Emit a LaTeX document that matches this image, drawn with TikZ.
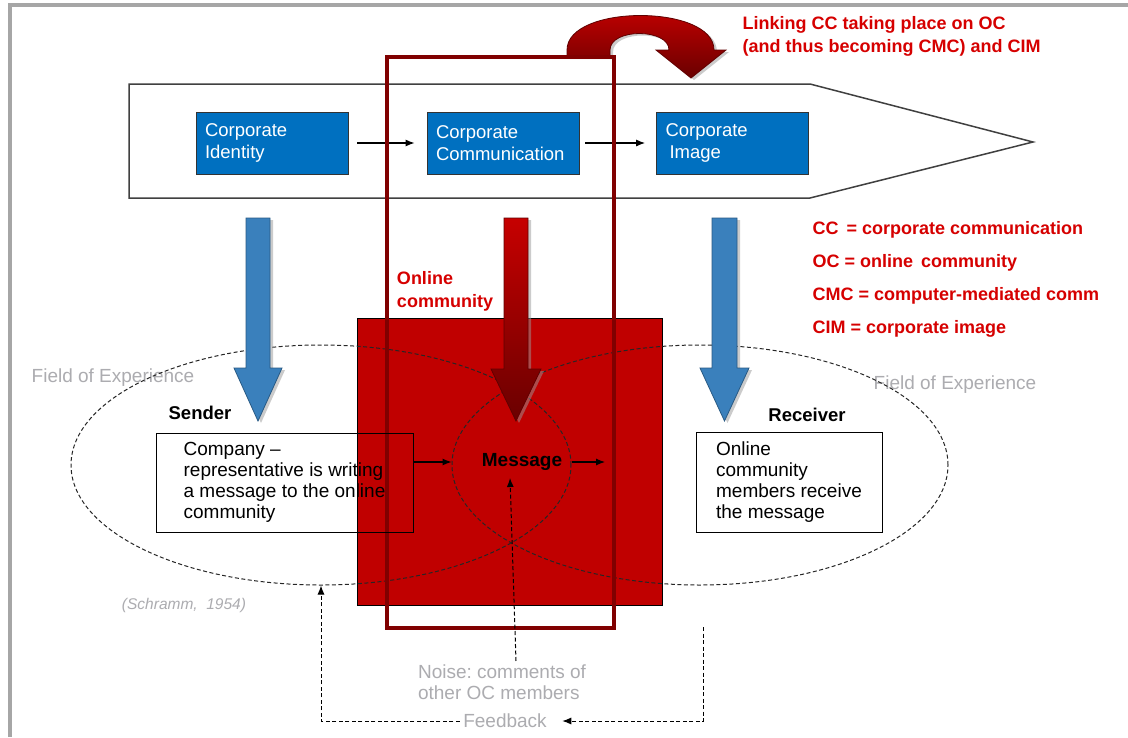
\documentclass[tikz,border=0pt]{standalone}
\usepackage{fontspec}
\setmainfont{Liberation Sans}
\usetikzlibrary{positioning, arrows.meta, shapes.geometric, shadows}
\frenchspacing

\definecolor{ciblue}{RGB}{0,112,192}
\definecolor{arrowblue}{RGB}{58,128,188}
\definecolor{ocred}{RGB}{192,0,0}
\definecolor{darkframe}{RGB}{128,0,0}
\definecolor{notered}{RGB}{214,0,0}
\definecolor{fieldgray}{RGB}{172,172,176}
\definecolor{framegray}{RGB}{166,166,166}

\begin{document}
\begin{tikzpicture}[
    x=1pt, y=-1pt,
    % Styles
    corpbox/.style={draw=black!80, line width=0.8pt, fill=ciblue, text=white, font=\fontsize{18.5}{22}\selectfont, text width=134pt, inner xsep=9pt, minimum height=62pt, align=left},
    flow/.style={-{Latex[length=9pt, width=7pt]}, line width=1.1pt},
    dashflow/.style={-{Latex[length=9pt, width=7pt]}, line width=1pt, dash pattern=on 4pt off 2.5pt},
    field/.style={ellipse, draw=black!85, line width=1pt, dash pattern=on 4pt off 2.5pt, inner sep=0pt},
    textbox/.style={draw=black, line width=1pt, align=left, font=\fontsize{19}{21}\selectfont},
    role/.style={font=\fontsize{18.5}{22}\selectfont\bfseries},
    greynote/.style={text=fieldgray, font=\fontsize{19}{21}\selectfont, align=left},
    rednote/.style={text=notered, font=\fontsize{18}{23}\selectfont\bfseries, align=left},
    bluearrow/.style={fill=arrowblue, draw=arrowblue!70!black, line width=0.8pt, drop shadow={shadow xshift=3pt, shadow yshift=-2pt, fill=black!40}},
    redarrow/.style={top color=ocred!90!red, bottom color=ocred!55!black, draw=ocred!50!black, line width=0.8pt, drop shadow={shadow xshift=3pt, shadow yshift=-2pt, fill=black!40}},
]

\useasboundingbox (0,0) rectangle (1128,737);
\fill[white] (0,0) rectangle (1128,737);
\draw[framegray, line width=4pt] (10,737) -- (10,5) -- (1128,5);

% Identity -> communication -> image
\draw[line width=1.5pt, draw=black!75, fill=white] (129,84) -- (810,84) -- (1033,142) -- (810,198) -- (129,198) -- cycle;

\node[corpbox] (identity) at (272,143) {Corporate\\Identity};
\node[corpbox] (communication) at (503,143) {Corporate\\Communication};
\node[corpbox] (image) at (732.5,143) {Corporate\\\hspace{4pt}Image};

\draw[flow, shorten <=9pt, shorten >=12pt] (identity) -- (communication);
\draw[flow, shorten <=6pt, shorten >=11pt] (communication) -- (image);

% Linking arrow
\path[redarrow] (567,57) -- (567,50) .. controls (567,4) and (714,4) .. (714,50) -- (726,50) -- (691,78) -- (656,50) -- (669,50) .. controls (669,28) and (610,28) .. (610,50) -- (610,57) -- cycle;
\node[rednote, anchor=west] (linking) at (739,36) {Linking CC taking place on OC\\(and thus becoming CMC) and CIM};

% Online community
\node[rednote] (oclabel) at (445,291) {Online\\community};
\node[draw=black, fill=ocred, minimum width=305pt, minimum height=287pt, inner sep=0pt] (ocsquare) at (509.5,461.5) {};

% Fields of experience
\node[greynote] (fieldleft) at (113,378) {Field of Experience};
\node[greynote] (fieldright) at (955,385) {Field of Experience};
\node[field, minimum width=500pt, minimum height=240pt] (senderfield) at (321,465) {};
\node[field, minimum width=496pt, minimum height=240pt] (receiverfield) at (700,465) {};

\draw[darkframe, line width=4pt] (387,57) rectangle (614,628);

% Block arrows
\path[bluearrow] (246,218) -- (270,218) -- (270,368) -- (282,368) -- (258,421) -- (234,368) -- (246,368) -- cycle;
\path[bluearrow] (712,218) -- (737,218) -- (737,368) -- (749,368) -- (724.5,421) -- (700,368) -- (712,368) -- cycle;
\path[redarrow] (504,218) -- (528,218) -- (528,369) -- (541,369) -- (516,421) -- (491,369) -- (504,369) -- cycle;

% Sender and receiver
\node[role] (senderlabel) at (200,413) {Sender};
\node[textbox, minimum width=257pt, minimum height=99pt] (senderbox) at (284.5,482.5) {Company –\\representative is writing\\a message to the online\\community};
\node[role] (receiverlabel) at (807,415) {Receiver};
\node[textbox, minimum width=186pt, minimum height=100pt] (receiverbox) at (789,482) {Online\\community\\members receive\\the message};

% Message
\node[font=\fontsize{19}{21}\selectfont\bfseries] (message) at (522,462) {Message};
\coordinate (msgout) at (605,462);
\draw[flow] (senderbox.east |- message) -- (receiverfield.west |- message);
\draw[flow] (senderfield.east |- message) -- (msgout);

% Noise and feedback
\node[greynote] (noise) at (502,682) {Noise: comments of\\other OC members};
\coordinate (noisetip) at (510,478);
\draw[dashflow] ([xshift=14pt]noise.north) -- (noisetip);

\node[greynote] (feedback) at (505,721) {Feedback};
\coordinate (fbstart) at (703,627);
\draw[dashflow, shorten >=12pt] (fbstart) |- (feedback.east);
\draw[dashflow] (feedback.west) -| (senderfield.south);

\node[text=fieldgray, font=\fontsize{15.5}{18}\selectfont\itshape] (schramm) at (184,605) {(Schramm,\ \ 1954)};

% Legend
\node[rednote, font=\fontsize{18}{33}\selectfont\bfseries, anchor=west] (legend) at (809,279) {CC \,= corporate communication\\OC = online \,community\\CMC = computer-mediated comm\\CIM = corporate image};

\end{tikzpicture}
\end{document}
